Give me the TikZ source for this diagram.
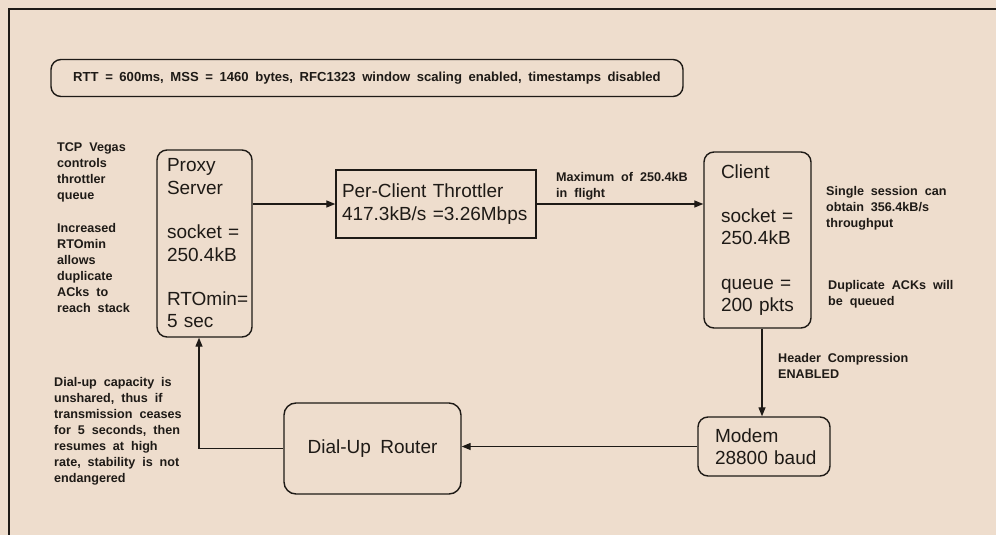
\documentclass[tikz,border=0pt]{standalone}
\usepackage{fontspec}
\setmainfont{Liberation Sans}
\usetikzlibrary{arrows.meta}
\definecolor{paper}{HTML}{EEDDCD}
\definecolor{ink}{HTML}{1E1A16}
\newcommand{\bigtext}{\fontsize{19}{22.3}\selectfont\spaceskip=0.5em plus 0.1em\relax}
\newcommand{\notetext}{\fontsize{12.6}{16}\selectfont\bfseries\spaceskip=0.55em plus 0.1em\relax}
\newcommand{\headtext}{\fontsize{13.1}{15}\selectfont\bfseries\spaceskip=0.5em plus 0.1em\relax}
\begin{document}
\begin{tikzpicture}[x=1pt,y=-1pt,
  every node/.style={text=ink},
  rbox/.style={draw=ink, line width=1.4pt, rounded corners=10pt, align=left, font=\bigtext, inner ysep=0pt},
  sbox/.style={draw=ink, line width=1.4pt, align=left, font=\bigtext, inner ysep=0pt},
  note/.style={anchor=north west, inner sep=0pt, align=left, font=\notetext},
  arr/.style={draw=ink, line width=1.3pt, -{Triangle[length=9pt,width=7pt]}},
  frame/.style={draw=ink, line width=1.5pt}]
  % page background (slightly oversized so no edge is left unpainted) and outer frame
  \useasboundingbox (0,0) rectangle (996,535);
  \fill[paper] (-6,-6) rectangle (1002,541);
  \draw[frame] (1002,9) -- (9,9) -- (9,541);

  % parameter banner
  \node[rbox, font=\headtext, minimum width=632pt, minimum height=37pt, align=center]
    (params) at (367,78) {RTT = 600ms, MSS = 1460 bytes, RFC1323 window scaling enabled, timestamps disabled};

  % main boxes
  \node[rbox, inner xsep=10pt, text width=75pt, minimum height=187pt] (proxy) at (204.5,243.5)
    {Proxy\\Server\\[22.3pt]socket~=\\250.4kB\\[22.3pt]RTOmin=\\5~sec};
  \node[sbox, inner xsep=6pt, text width=188pt, minimum height=68pt] (thr) at (436,204)
    {Per-Client~Throttler\\417.3kB/s~=3.26Mbps};
  \node[rbox, inner xsep=17pt, text width=73pt, minimum height=176pt] (client) at (757.5,240)
    {Client\\[22.3pt]socket~=\\250.4kB\\[22.3pt]queue~=\\200~pkts};
  \node[rbox, inner xsep=17pt, text width=98pt, minimum height=59pt] (modem) at (764,446.5)
    {Modem\\28800~baud};
  \node[rbox, rounded corners=12pt, minimum width=177pt, minimum height=91pt, align=center] (router) at (372.5,448.5)
    {Dial-Up Router};

  % annotations
  \node[note] (vegas) at (57,142.5) {TCP Vegas\\controls\\throttler\\queue};
  \node[note] (rto) at (57,223.5) {Increased\\RTOmin\\allows\\duplicate\\ACks to\\reach stack};
  \node[note] (flight) at (556,172) {Maximum of 250.4kB\\in flight};
  \node[note] (single) at (826,186.5) {Single session can\\obtain 356.4kB/s\\throughput};
  \node[note] (dupack) at (828,280.5) {Duplicate ACKs will\\be queued};
  \node[note] (hdr) at (778,353.5) {Header Compression\\ENABLED};
  \node[note] (dialup) at (54,377.5) {Dial-up capacity is\\unshared, thus if\\transmission ceases\\for 5 seconds, then\\resumes at high\\rate, stability is not\\endangered};

  % data path
  \draw[arr] (thr.west -| proxy.east) -- (thr.west);
  \draw[arr] (thr.east) -- (thr.east -| client.west);
  \draw[arr] ([xshift=4.5pt]client.south) -- ([xshift=4.5pt]client.south |- modem.north);
  \draw[arr] (modem.west) -- (modem.west -| router.east);
  \draw[arr] (router.west) -| ([xshift=-5.5pt]proxy.south);
\end{tikzpicture}
\end{document}
